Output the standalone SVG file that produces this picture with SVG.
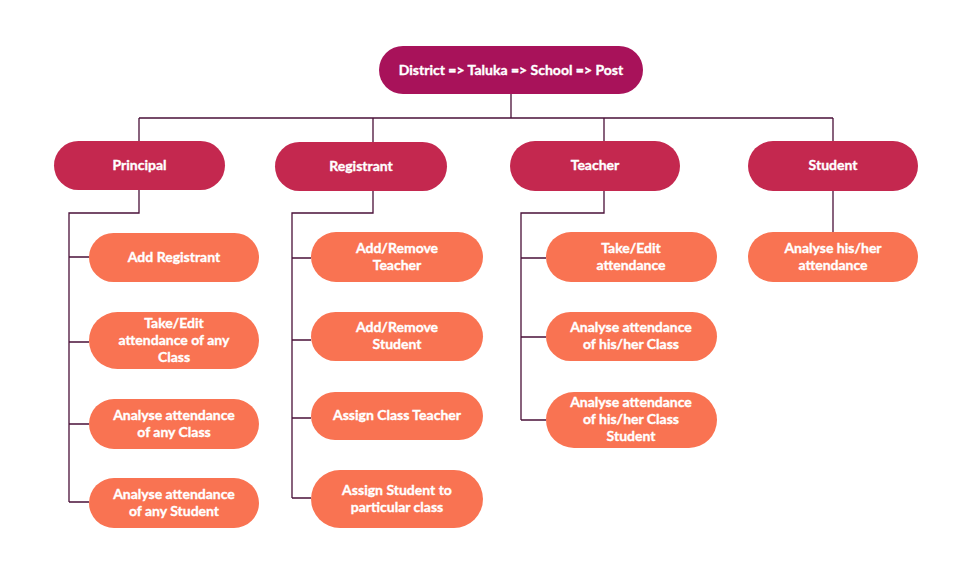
<svg xmlns="http://www.w3.org/2000/svg" width="960" height="563" viewBox="0 0 960 563">
<style>
.top{fill:#a8125a}
.role{fill:#c4284f}
.task{fill:#f97352}
text{font-family:Lato,"Open Sans","Liberation Sans",sans-serif;font-weight:bold;font-size:14px;fill:#ffffff;stroke:#ffffff;stroke-width:0.35;text-anchor:middle}
.conn{fill:none;stroke:#4a1038;stroke-width:1.3}
</style>
<rect width="960" height="563" fill="#ffffff"/>
<g id="connectors" class="conn">
<path d="M511,94 V118 M139,118 H833 M139,118 V141 M373,118 V142 M604,118 V141 M833,118 V141"/>
<path d="M139,190 V213 H69 V502 M69,257 H89 M69,342 H89 M69,424 H89 M69,502 H89"/>
<path d="M373,191 V213 H292 V498 M292,258 H311 M292,340 H311 M292,418 H311 M292,498 H311"/>
<path d="M604,191 V213 H521 V420 M521,258 H546 M521,337 H546 M521,420 H546"/>
<path d="M833,191 V232"/>
</g>
<g id="root"><rect class="top" x="379" y="46" width="264" height="48" rx="24"/><text x="511" y="75">District =&gt; Taluka =&gt; School =&gt; Post</text></g>
<g id="principal"><rect class="role" x="54" y="141" width="171" height="49" rx="24.5"/><text x="139.5" y="170">Principal</text></g>
<g id="registrant"><rect class="role" x="275" y="142" width="172" height="49" rx="24.5"/><text x="361" y="171">Registrant</text></g>
<g id="teacher"><rect class="role" x="510" y="141" width="170" height="50" rx="25"/><text x="595" y="170">Teacher</text></g>
<g id="student"><rect class="role" x="748" y="141" width="170" height="50" rx="25"/><text x="833" y="170">Student</text></g>

<g id="p1"><rect class="task" x="89" y="233" width="170" height="49" rx="24.5"/><text x="174" y="262">Add Registrant</text></g>
<g id="p2"><rect class="task" x="89" y="312" width="170" height="57" rx="28.5"/><text x="174" y="328">Take/Edit</text><text x="174" y="345">attendance of any</text><text x="174" y="362">Class</text></g>
<g id="p3"><rect class="task" x="89" y="399" width="170" height="50" rx="25"/><text x="174" y="420">Analyse attendance</text><text x="174" y="437">of any Class</text></g>
<g id="p4"><rect class="task" x="89" y="478" width="170" height="50" rx="25"/><text x="174" y="499">Analyse attendance</text><text x="174" y="516">of any Student</text></g>

<g id="r1"><rect class="task" x="311" y="232" width="172" height="50" rx="25"/><text x="397" y="253">Add/Remove</text><text x="397" y="270">Teacher</text></g>
<g id="r2"><rect class="task" x="311" y="312" width="172" height="49" rx="24.5"/><text x="397" y="332">Add/Remove</text><text x="397" y="349">Student</text></g>
<g id="r3"><rect class="task" x="311" y="392" width="172" height="48" rx="24"/><text x="397" y="420">Assign Class Teacher</text></g>
<g id="r4"><rect class="task" x="311" y="470" width="172" height="58" rx="29"/><text x="397" y="495">Assign Student to</text><text x="397" y="512">particular class</text></g>

<g id="t1"><rect class="task" x="546" y="232" width="171" height="50" rx="25"/><text x="631" y="253">Take/Edit</text><text x="631" y="270">attendance</text></g>
<g id="t2"><rect class="task" x="546" y="312" width="171" height="49" rx="24.5"/><text x="631" y="332">Analyse attendance</text><text x="631" y="349">of his/her Class</text></g>
<g id="t3"><rect class="task" x="546" y="392" width="171" height="56" rx="28"/><text x="631" y="407">Analyse attendance</text><text x="631" y="424">of his/her Class</text><text x="631" y="441">Student</text></g>

<g id="s1"><rect class="task" x="748" y="232" width="170" height="50" rx="25"/><text x="833" y="253">Analyse his/her</text><text x="833" y="270">attendance</text></g>
</svg>
